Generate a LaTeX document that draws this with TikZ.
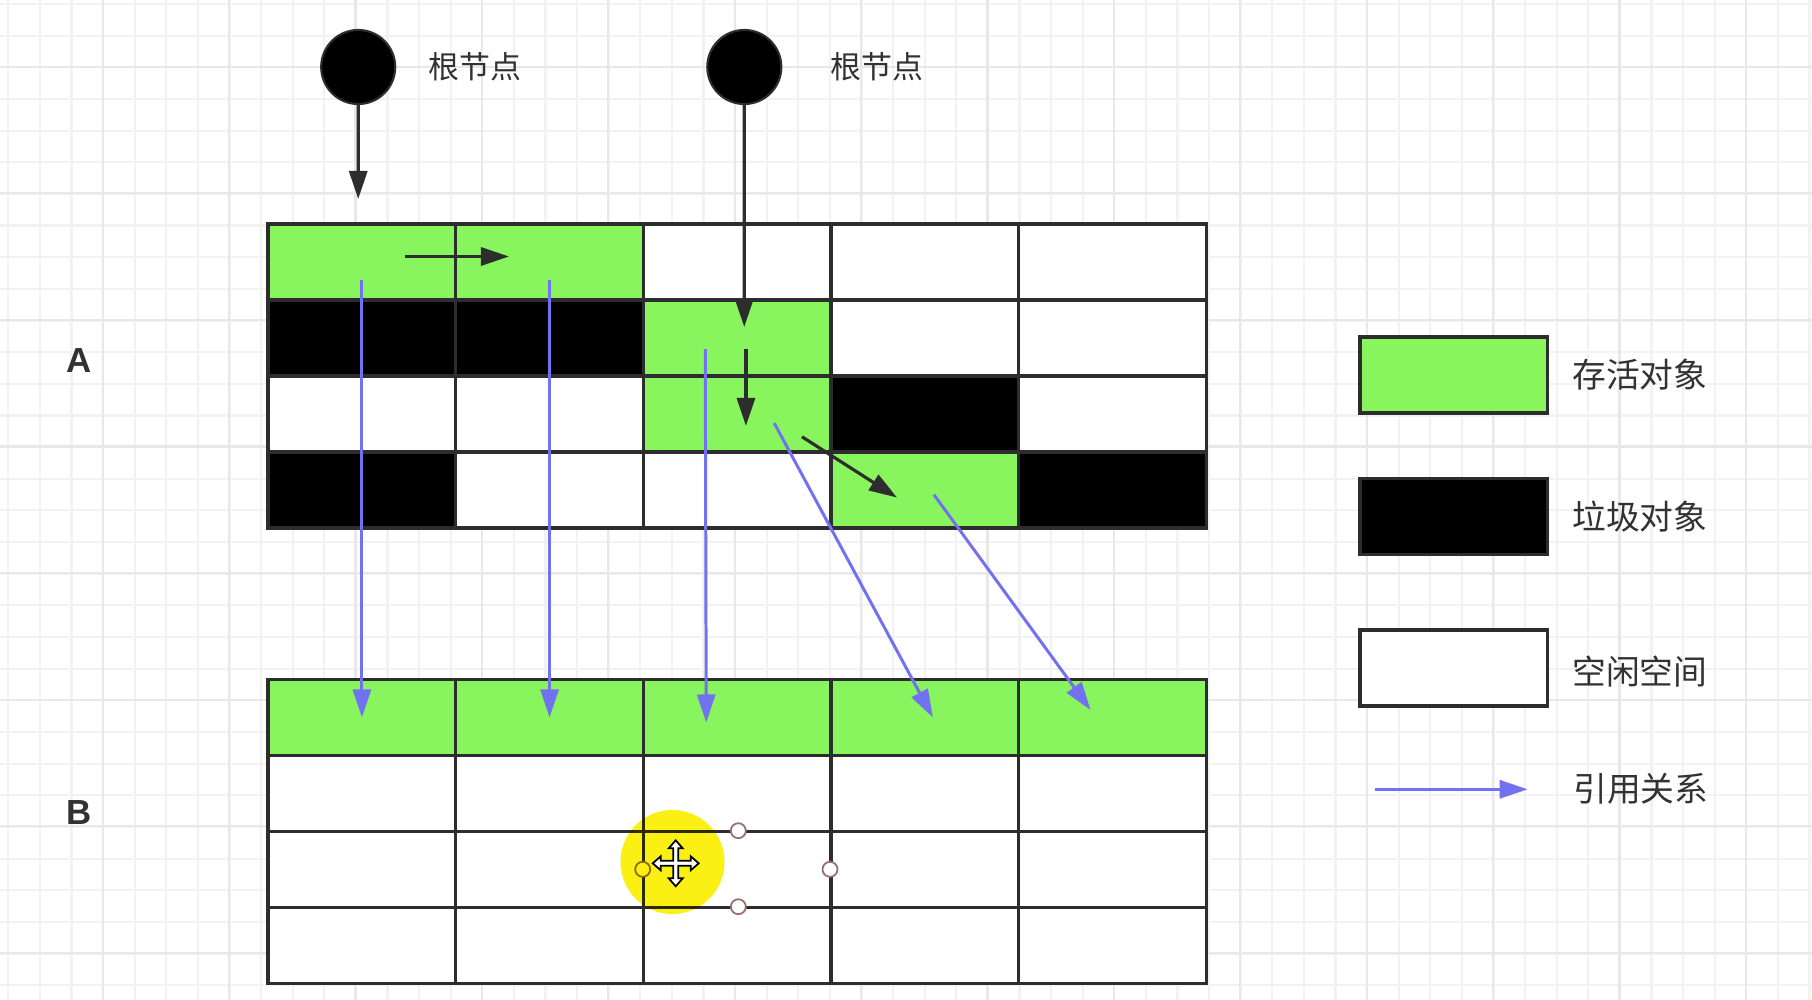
\documentclass[tikz,border=0pt]{standalone}
\usepackage{fontspec}
\setmainfont{Liberation Sans}
\newfontfamily\cjk{Noto Sans CJK SC}
\usetikzlibrary{arrows.meta,positioning}
\definecolor{livegreen}{RGB}{137,245,94}
\definecolor{edge}{RGB}{45,45,45}
\definecolor{ink}{RGB}{50,50,50}
\definecolor{refblue}{RGB}{114,114,240}
\definecolor{gridminor}{RGB}{242,242,242}
\definecolor{gridmajor}{RGB}{232,232,232}
\definecolor{marker}{RGB}{250,240,20}
\definecolor{handlerim}{RGB}{150,110,110}

\begin{document}
\begin{tikzpicture}[x=0.01cm, y=-0.01cm,
    >/.tip={Triangle[length=0.28cm,width=0.18cm]},
    gridmin/.style={draw=gridminor, line width=0.6pt},
    gridmaj/.style={draw=gridmajor, line width=0.6pt},
    cell/.style={draw=edge, line width=1pt, minimum width=1.877cm, minimum height=0.76cm, inner sep=0pt, outer sep=0pt},
    live/.style={fill=livegreen}, junk/.style={fill=black}, free/.style={fill=white},
    root/.style={circle, fill=black, draw=edge, line width=0.6pt, minimum size=0.74cm, inner sep=0pt},
    ptr/.style={->, draw=edge, line width=0.9pt},
    ref/.style={->, draw=refblue, line width=0.85pt},
    txt/.style={text=ink, inner sep=0pt, font=\cjk\fontsize{8.8}{10}\selectfont},
    legendtxt/.style={text=ink, inner sep=0pt, font=\cjk\fontsize{9.6}{11}\selectfont},
    side/.style={text=ink, inner sep=0pt, font=\bfseries\fontsize{9.9}{12}\selectfont},
    handle/.style={fill=white, draw=handlerim, line width=0.5pt}]
    \fill[white] (0,0) rectangle (1812,1000);
    \useasboundingbox (0,0) rectangle (1812,1000);
    \foreach \k in {0,...,57} \draw[gridmin] ({8.3+31.6*\k},0) -- ++(0,1000);
    \foreach \k in {0,...,31} \draw[gridmin] (0,{4+31.65*\k}) -- ++(1812,0);
    \foreach \k in {0,...,13} \draw[gridmaj] ({102.7+126.4*\k},0) -- ++(0,1000);
    \foreach \k in {0,...,7} \draw[gridmaj] (0,{66.7+126.6*\k}) -- ++(1812,0);
    \foreach \f [count=\i from 0] in {live,live,free,free,free,junk,junk,live,free,free,free,free,live,junk,free,junk,free,free,live,junk} {
        \pgfmathtruncatemacro\row{div(\i,5)+1}
        \pgfmathtruncatemacro\col{mod(\i,5)+1}
        \node[cell,\f] (a\row\col) at ({174.27+187.66*\col},{186.21+75.98*\row}) {};
    }
    \foreach \row/\f in {1/live,2/free,3/free,4/free}
        \foreach \col in {1,...,5}
            \node[cell,\f] (b\row\col) at ({174.27+187.66*\col},{641.51+75.98*\row}) {};
    \node[root] (root1) at (358.2,67) {};
    \node[root] (root2) at (744.3,67) {};
    \node[txt] (lab1) at (475,67) {根节点};
    \node[txt] (lab2) at (877,67) {根节点};
    \node[side] (memA) at (79,361) {A};
    \node[side] (memB) at (79,813) {B};
    \node[cell,live] (keylive) at (1453.8,375) {};
    \node[cell,junk] (keyjunk) at (1453.8,516.5) {};
    \node[cell,free] (keyfree) at (1453.8,668) {};
    \node[legendtxt, right=0.24cm of keylive] (lablive) {存活对象};
    \node[legendtxt, right=0.24cm of keyjunk] (labjunk) {垃圾对象};
    \node[legendtxt, right=0.24cm of keyfree, yshift=-0.04cm] (labfree) {空闲空间};
    \coordinate (refa) at (1375,789.3);
    \coordinate (refb) at (1527.7,789.3);
    \draw[ref] (refa) -- (refb);
    \node[legendtxt, right=0.45cm of refb] (labref) {引用关系};
    \draw[ptr] (root1) -- ([shift={(-3.7,-25.2)}]a11.north);
    \draw[ptr] (root2) -- ([shift={(7,-11.2)}]a23.center);
    \draw[ptr] ([shift={(42.6,-5.7)}]a11.center) -- ([shift={(-40.6,-5.7)}]a12.center);
    \draw[ptr] ([shift={(8.7,10.8)}]a23.center) -- ([shift={(8.7,11.8)}]a33.center);
    \draw[ptr] ([shift={(64.7,22.6)}]a33.center) -- ([shift={(-27.9,7.4)}]a44.center);
    \draw[ref] ([shift={(0,17.5)}]a11.center) -- (b11.center);
    \draw[ref] ([shift={(0,17.5)}]a12.center) -- (b12.center);
    \draw[ref] ([shift={(-32,11)}]a23.center) -- ([shift={(-31,5)}]b13.center);
    \draw[ref] ([shift={(37,9)}]a33.center) -- ([shift={(8,0)}]b14.center);
    \draw[ref] ([shift={(9,4.5)}]a44.center) -- ([shift={(-22,-7.5)}]b15.center);
    \foreach \p in {(738.3,830.7),(738.3,906.7),(642.7,869.3),(830,869.3)}
        \filldraw[handle] \p circle (0.075cm);
    \fill[marker, blend mode=multiply] (672.5,862) circle (0.52cm);
    \filldraw[fill=white, draw=black, line width=0.5pt, shift={(675.7,863.3)}]
        (0,-23) -- (7,-15) -- (2.5,-15) -- (2.5,-2.5) -- (15,-2.5) -- (15,-7) -- (23,0)
        -- (15,7) -- (15,2.5) -- (2.5,2.5) -- (2.5,15) -- (7,15) -- (0,23) -- (-7,15)
        -- (-2.5,15) -- (-2.5,2.5) -- (-15,2.5) -- (-15,7) -- (-23,0) -- (-15,-7)
        -- (-15,-2.5) -- (-2.5,-2.5) -- (-2.5,-15) -- (-7,-15) -- cycle;
\end{tikzpicture}
\end{document}
